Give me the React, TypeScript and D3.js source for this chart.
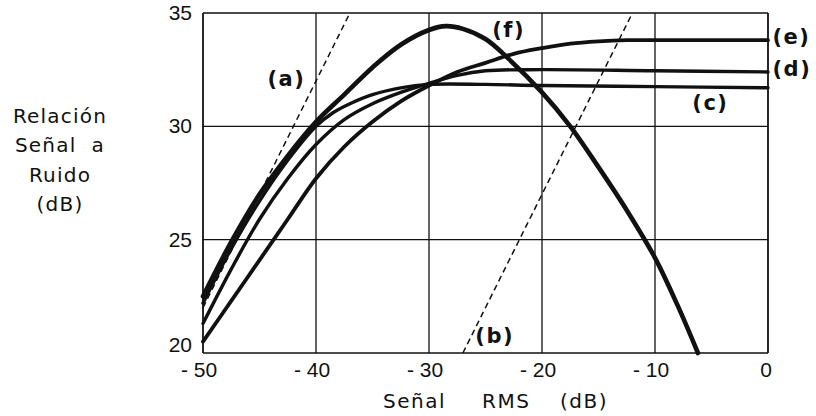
import React from "react";
import * as d3 from "d3";

type Pt = [number, number];

// Señal RMS (dB) vs Relación Señal a Ruido (dB)
const curveF: Pt[] = [
  [-50, 22.5], [-47.5, 24.9], [-45, 27.0], [-42.5, 28.7], [-40, 30.2], [-37.5, 31.4],
  [-35, 32.6], [-32.5, 33.6], [-30, 34.25], [-28.5, 34.42], [-27, 34.3], [-25, 33.85],
  [-23, 33.0], [-20, 31.5], [-17.5, 30.0], [-15, 28.2], [-12.5, 26.3], [-10, 24.2],
  [-8, 22.1], [-6.2, 20.0],
];
const curveC: Pt[] = [
  [-50, 22.2], [-47.5, 24.6], [-45, 26.7], [-42.5, 28.5], [-40, 30.0], [-38.5, 30.6],
  [-37, 31.0], [-35, 31.4], [-32.5, 31.7], [-30, 31.85], [-25, 31.85], [-20, 31.8],
  [-10, 31.75], [0, 31.7],
];
const curveD: Pt[] = [
  [-50, 21.3], [-47.5, 23.7], [-45, 25.9], [-42.5, 27.7], [-40, 29.2], [-37.5, 30.3],
  [-35, 31.0], [-32.5, 31.5], [-30, 31.9], [-27.5, 32.25], [-25, 32.45], [-20, 32.5],
  [-10, 32.45], [0, 32.4],
];
const curveE: Pt[] = [
  [-50, 20.5], [-47.5, 22.3], [-45, 24.1], [-42.5, 25.9], [-40, 27.7], [-37.5, 29.1],
  [-35, 30.2], [-32.5, 31.1], [-30, 31.8], [-27.5, 32.4], [-25, 32.8], [-22.5, 33.2],
  [-20, 33.45], [-17.5, 33.65], [-15, 33.75], [-12.5, 33.8], [-10, 33.8], [0, 33.8],
];
const lineA: Pt[] = [[-50, 22], [-37, 35]];
const lineB: Pt[] = [[-27, 20], [-12, 35]];

const xTicks = [-50, -40, -30, -20, -10, 0];
const xTickLabels = ["- 50", "- 40", "- 30", "- 20", "- 10", "0"];
const yTicks = [20, 25, 30, 35];
const yTickLabels = ["20", "25", "30", "35"];

const curveLabels: { text: string; x: number; y: number }[] = [
  { text: "(a)", x: -44.3, y: 32.1 },
  { text: "(b)", x: -25.9, y: 20.75 },
  { text: "(c)", x: -6.7, y: 31.05 },
  { text: "(d)", x: 0.4, y: 32.55 },
  { text: "(e)", x: 0.4, y: 33.95 },
  { text: "(f)", x: -24.4, y: 34.25 },
];

const yTitle = ["Relación", "Señal  a", "Ruido", "(dB)"];

export default function App() {
  const W = 816, H = 416;
  const x = d3.scaleLinear().domain([-50, 0]).range([203, 768]);
  const y = d3.scaleLinear().domain([20, 35]).range([353, 13]);
  const line = d3
    .line<Pt>()
    .x((d) => x(d[0]))
    .y((d) => y(d[1]))
    .curve(d3.curveCatmullRom.alpha(0.5));
  const straight = d3.line<Pt>().x((d) => x(d[0])).y((d) => y(d[1]));
  const font = "'Liberation Sans', Arial, sans-serif";
  const tfont = "'DejaVu Sans', sans-serif";

  return (
    <svg
      width={W}
      height={H}
      style={{ position: "absolute", left: 0, top: 0, background: "#fff" }}
    >
      <rect x={0} y={0} width={W} height={H} fill="#fff" />
      {/* grid */}
      {xTicks.map((t) => (
        <line key={"gx" + t} x1={x(t)} x2={x(t)} y1={y(35)} y2={y(20)} stroke="#111" strokeWidth={t === -50 || t === 0 ? 1.8 : 1.3} />
      ))}
      {yTicks.map((t) => (
        <line key={"gy" + t} x1={x(-50)} x2={x(0)} y1={y(t)} y2={y(t)} stroke="#111" strokeWidth={t === 20 || t === 35 ? 1.6 : 1.3} />
      ))}
      {/* dashed lines */}
      <path d={straight(lineA) || ""} fill="none" stroke="#111" strokeWidth={1.5} strokeDasharray="6 4" />
      <path d={straight(lineB) || ""} fill="none" stroke="#111" strokeWidth={1.5} strokeDasharray="6 4" />
      {/* curves */}
      <path d={line(curveE) || ""} fill="none" stroke="#111" strokeWidth={3.8} strokeLinecap="round" />
      <path d={line(curveD) || ""} fill="none" stroke="#111" strokeWidth={3.4} strokeLinecap="round" />
      <path d={line(curveC) || ""} fill="none" stroke="#111" strokeWidth={3.4} strokeLinecap="round" />
      <path d={line(curveF) || ""} fill="none" stroke="#111" strokeWidth={4.6} strokeLinecap="round" />
      {/* tick labels */}
      {xTicks.map((t, i) => (
        <text key={"xt" + t} x={x(t) - (t === 0 ? 2 : 4)} y={377} textAnchor="middle" fontFamily={font} fontSize={21} fill="#111">
          {xTickLabels[i]}
        </text>
      ))}
      {yTicks.map((t, i) => (
        <text key={"yt" + t} x={192} y={y(t) + (t === 20 ? -1 : 7)} textAnchor="end" fontFamily={font} fontSize={21} fill="#111">
          {yTickLabels[i]}
        </text>
      ))}
      {/* curve labels */}
      {curveLabels.map((l) => (
        <text key={l.text} x={x(l.x)} y={y(l.y)} fontFamily={tfont} fontSize={21} fontWeight="bold" letterSpacing={1.5} fill="#111" dominantBaseline="central">
          {l.text}
        </text>
      ))}
      {/* x title */}
      <text x={383} y={408} fontFamily={tfont} fontSize={20} letterSpacing={1.5} fill="#111">Señal</text>
      <text x={482} y={408} fontFamily={tfont} fontSize={20} letterSpacing={1.5} fill="#111">RMS</text>
      <text x={560} y={408} fontFamily={tfont} fontSize={20} letterSpacing={1.5} fill="#111">(dB)</text>
      {/* y title */}
      {yTitle.map((s, i) => (
        <text key={s} x={60} y={123 + i * 29.3} textAnchor="middle" fontFamily={tfont} fontSize={20} letterSpacing={1.2} fill="#111" style={{ whiteSpace: "pre" }}>
          {s}
        </text>
      ))}
    </svg>
  );
}
